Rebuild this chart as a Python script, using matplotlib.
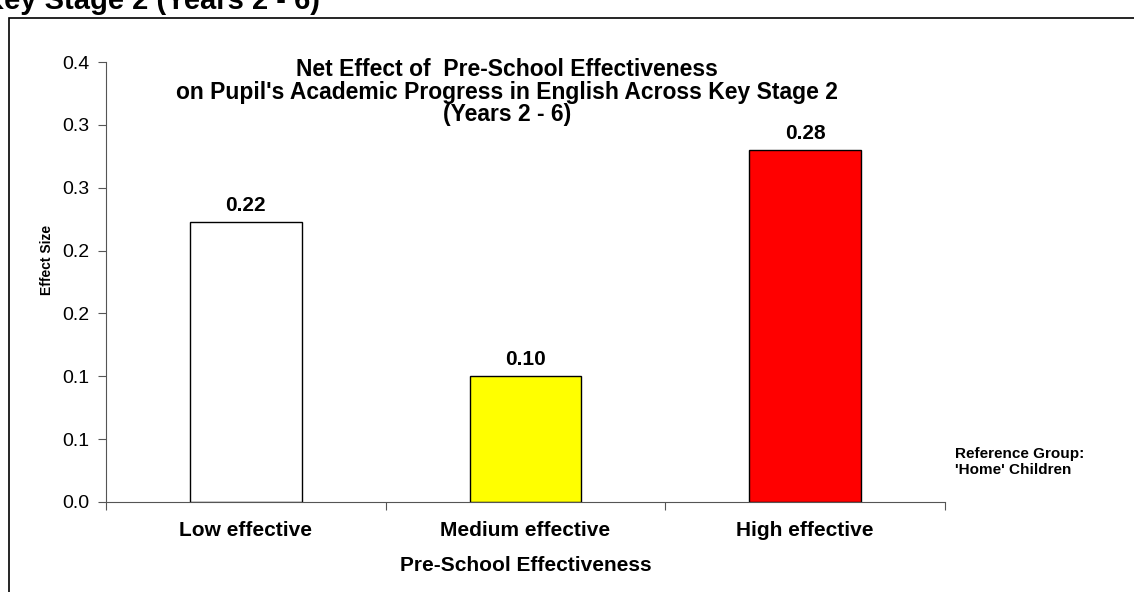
import matplotlib.pyplot as plt
from matplotlib.patches import Rectangle
from matplotlib.ticker import FixedLocator, FixedFormatter

plt.rcParams['font.family'] = ['Liberation Sans', 'DejaVu Sans']

# Veriler
categories = ['Low effective', 'Medium effective', 'High effective']
effect_sizes = [0.223, 0.10, 0.28]
bar_labels = ['0.22', '0.10', '0.28']
bar_colors = ['white', '#ffff00', '#ff0000']
y_ticks = [0.0, 0.05, 0.10, 0.15, 0.20, 0.25, 0.30, 0.35]
y_tick_labels = ['0.0', '0.1', '0.1', '0.2', '0.2', '0.3', '0.3', '0.4']

W, H = 1134, 592
fig = plt.figure(figsize=(W / 100, H / 100), dpi=100)

# dış çerçeve (kırpılmış)
fig.patches.append(Rectangle((9 / W, -0.1), 1.2, 1 - 18 / H + 0.1,
                             transform=fig.transFigure, fill=False,
                             edgecolor='black', lw=1.2))

# üstte kesik başlık
fig.text(-17 / W, 1 - 9 / H, 'Key Stage 2 (Years 2 - 6)', fontsize=21,
         fontweight='bold', ha='left', va='baseline')

ax = fig.add_axes([106 / W, 1 - 502 / H, (945 - 106) / W, (502 - 62) / H])
x = range(len(categories))
bars = ax.bar(x, effect_sizes, width=0.4, color=bar_colors,
              edgecolor='black', linewidth=1)
for b, lab in zip(bars, bar_labels):
    ax.annotate(lab, (b.get_x() + b.get_width() / 2, b.get_height()),
                xytext=(0, 5), textcoords='offset points', ha='center',
                va='bottom', fontsize=15, fontweight='bold')

ax.set_xlim(-0.5, 2.5)
ax.set_ylim(0, 0.35)
ax.yaxis.set_major_locator(FixedLocator(y_ticks))
ax.yaxis.set_major_formatter(FixedFormatter(y_tick_labels))
ax.set_xticks([-0.5, 0.5, 1.5, 2.5])
ax.set_xticklabels([])
ax.set_xticks(list(x), minor=True)
ax.set_xticklabels(categories, minor=True, fontsize=15, fontweight='bold')
ax.tick_params(axis='x', which='minor', length=0, pad=14)
ax.tick_params(axis='x', which='major', length=6, direction='out', color='#555555')
ax.tick_params(axis='y', length=6, direction='out', labelsize=14, color='#555555', pad=6)

for side in ['top', 'right']:
    ax.spines[side].set_visible(False)
for side in ['left', 'bottom']:
    ax.spines[side].set_color('#555555')

ax.set_xlabel('Pre-School Effectiveness', fontsize=15, fontweight='bold', labelpad=11)
ax.set_ylabel('Effect Size', fontsize=10, fontweight='bold')
ax.yaxis.set_label_coords(-0.062, 0.55)

fig.text(507 / W, 1 - 58 / H, "Net Effect of  Pre-School Effectiveness\n"
         "on Pupil's Academic Progress in English Across Key Stage 2\n"
         "(Years 2 - 6)", ha='center', va='top', fontsize=16.5,
         fontweight='bold', linespacing=0.98)

fig.text(955 / W, 1 - 462 / H, "Reference Group:\n'Home' Children",
         fontsize=11, fontweight='bold', ha='left', va='center')

fig.savefig('out.png', dpi=100)
